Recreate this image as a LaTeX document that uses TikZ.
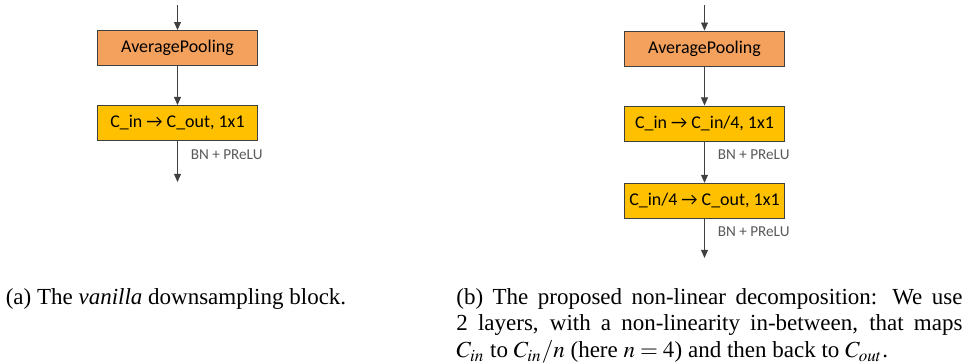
\documentclass[tikz,border=0pt]{standalone}
\usepackage{mathptmx}
\usepackage{fontspec}
\setmainfont{Liberation Serif}
\newfontfamily\boxfont{Carlito}
\usetikzlibrary{positioning, arrows.meta}
\definecolor{poolorange}{HTML}{F4A15D}
\definecolor{convyellow}{HTML}{FFC000}
\definecolor{edgegray}{HTML}{404040}
\definecolor{labelgray}{HTML}{595959}
\tikzstyle{poolblock} = [rectangle, draw=edgegray, fill=poolorange, 
minimum width=69.6pt, minimum height=15.2pt, inner sep=0pt, font=\boxfont\fontsize{7.8}{9}\selectfont]
\tikzstyle{convblock} = [rectangle, draw=edgegray, fill=convyellow, 
minimum width=69.6pt, minimum height=15.2pt, inner sep=0pt, font=\boxfont\fontsize{7.8}{9}\selectfont]
\tikzstyle{arrow} = [draw=edgegray, -{Triangle[length=3.5pt,width=3pt]}]
\tikzstyle{actlabel} = [font=\boxfont\fontsize{6.6}{8}\selectfont, text=labelgray, 
anchor=west, inner sep=0pt, pos=0.33, xshift=5.6pt]
\tikzstyle{caption} = [inner sep=0pt, font=\fontsize{10}{11.7}\selectfont]

\begin{document}
\begin{tikzpicture}[x=0.4348pt, y=-0.4348pt, node distance=17pt]
	\useasboundingbox (0,0) rectangle (964,362);
	% (a) vanilla block
	\node (PoolA) [poolblock] at (177.5,48) {AveragePooling};
	\node (ConvA) [convblock, below=of PoolA] {C\_in → C\_out, 1x1};
	\coordinate (InA) at (177.5,5);
	\coordinate (OutA) at (177.5,182);
	\draw [arrow] (InA) -- (PoolA);
	\draw [arrow] (PoolA) -- (ConvA);
	\draw [arrow] (ConvA) -- node[actlabel] {BN + PReLU} (OutA);

	% (b) non-linear decomposition
	\node (PoolB) [poolblock] at (704.5,48.5) {AveragePooling};
	\node (ConvB1) [convblock, below=of PoolB] {C\_in → C\_in/4, 1x1};
	\node (ConvB2) [convblock, below=18pt of ConvB1] {C\_in/4 → C\_out, 1x1};
	\coordinate (InB) at (704.5,5);
	\coordinate (OutB) at (704.5,258);
	\draw [arrow] (InB) -- (PoolB);
	\draw [arrow] (PoolB) -- (ConvB1);
	\draw [arrow] (ConvB1) -- node[actlabel] {BN + PReLU} (ConvB2);
	\draw [arrow] (ConvB2) -- node[actlabel] {BN + PReLU} (OutB);

	% captions
	\node (CapA) [caption, anchor=base] at (176,304) {(a) The \emph{vanilla} downsampling block.};
	\node (CapB) [caption, anchor=base west, text width=220pt, align=justify] at (456,304)
	{(b) The proposed non-linear decomposition: We use\linebreak 2 layers, with a non-linearity in-between, that maps\linebreak $C_{in}$ to $C_{in}/n$ (here $n=4$) and then back to $C_{out}$.};
\end{tikzpicture}
\end{document}
